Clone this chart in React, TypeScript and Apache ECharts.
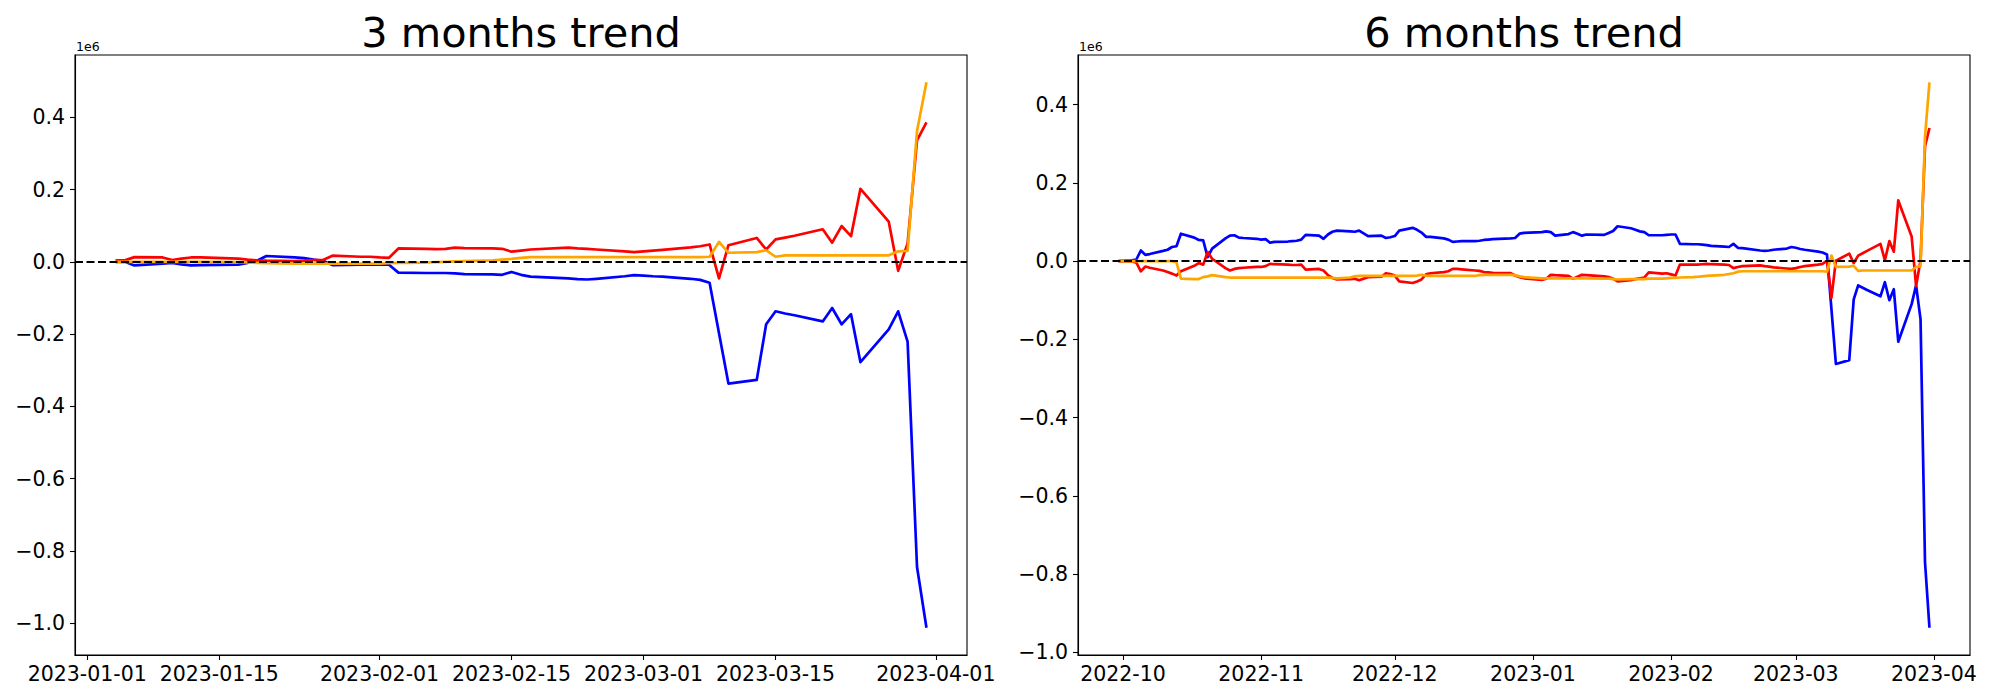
import React, { useEffect, useRef } from "react";
import * as echarts from "echarts";

// ---------- 3 months trend (values in units of 1e6) ----------
const dates3m = [
  "2023-01-04","2023-01-05","2023-01-06","2023-01-09","2023-01-10","2023-01-11","2023-01-12","2023-01-13","2023-01-17","2023-01-18","2023-01-19","2023-01-20","2023-01-23","2023-01-24","2023-01-25","2023-01-26","2023-01-27","2023-01-30","2023-01-31",
  "2023-02-01","2023-02-02","2023-02-03","2023-02-06","2023-02-07","2023-02-08","2023-02-09","2023-02-10","2023-02-13","2023-02-14","2023-02-15","2023-02-16","2023-02-17","2023-02-21","2023-02-22","2023-02-23","2023-02-24","2023-02-27","2023-02-28",
  "2023-03-01","2023-03-02","2023-03-03","2023-03-06","2023-03-07","2023-03-08","2023-03-09","2023-03-10","2023-03-13","2023-03-14","2023-03-15","2023-03-16","2023-03-17","2023-03-20","2023-03-21","2023-03-22","2023-03-23","2023-03-24","2023-03-27","2023-03-28","2023-03-29","2023-03-30","2023-03-31",
];
const blue3m = [
  0.000, 0.000, -0.010, -0.005, -0.003, -0.007, -0.010, -0.009, -0.008, -0.003, 0.003, 0.016, 0.012, 0.010, 0.006, 0.003, -0.009, -0.008, -0.008,
  -0.007, -0.008, -0.030, -0.031, -0.031, -0.031, -0.032, -0.034, -0.035, -0.036, -0.028, -0.036, -0.041, -0.046, -0.048, -0.049, -0.047, -0.040, -0.037,
  -0.038, -0.040, -0.041, -0.047, -0.050, -0.058, -0.198, -0.337, -0.327, -0.173, -0.137, -0.143, -0.148, -0.165, -0.128, -0.173, -0.145, -0.278, -0.187, -0.137, -0.221, -0.845, -1.013,
];
const red3m = [
  0.004, 0.004, 0.013, 0.012, 0.005, 0.009, 0.012, 0.012, 0.009, 0.006, 0.004, 0.003, 0.002, 0.003, 0.005, 0.005, 0.017, 0.014, 0.014,
  0.012, 0.011, 0.037, 0.036, 0.035, 0.036, 0.039, 0.038, 0.037, 0.036, 0.028, 0.031, 0.034, 0.039, 0.037, 0.036, 0.034, 0.029, 0.027,
  0.029, 0.031, 0.033, 0.040, 0.043, 0.048, -0.046, 0.046, 0.066, 0.034, 0.062, 0.067, 0.072, 0.090, 0.053, 0.099, 0.071, 0.202, 0.111, -0.025, 0.051, 0.336, 0.386,
];
const orange3m = [
  0.000, 0.000, 0.000, 0.000, 0.000, 0.000, 0.000, 0.000, -0.001, -0.002, -0.003, -0.004, -0.005, -0.005, -0.005, -0.005, -0.005, -0.005, -0.005,
  -0.005, -0.004, -0.003, -0.002, -0.001, 0.000, 0.001, 0.002, 0.004, 0.006, 0.008, 0.011, 0.013, 0.013, 0.013, 0.013, 0.013, 0.013, 0.013,
  0.013, 0.013, 0.013, 0.013, 0.013, 0.014, 0.055, 0.025, 0.027, 0.032, 0.014, 0.018, 0.018, 0.018, 0.018, 0.018, 0.018, 0.018, 0.018, 0.029, 0.030, 0.362, 0.497,
];
const xTicks3m = ["2023-01-01", "2023-01-15", "2023-02-01", "2023-02-15", "2023-03-01", "2023-03-15", "2023-04-01"];

// ---------- 6 months trend (values in units of 1e6) ----------
const dates6m = [
  "2022-09-30","2022-10-03","2022-10-04","2022-10-05","2022-10-06","2022-10-07","2022-10-10","2022-10-11","2022-10-12","2022-10-13","2022-10-14","2022-10-17","2022-10-18","2022-10-19","2022-10-20","2022-10-21","2022-10-24","2022-10-25","2022-10-26","2022-10-27","2022-10-28","2022-10-31",
  "2022-11-01","2022-11-02","2022-11-03","2022-11-04","2022-11-07","2022-11-08","2022-11-09","2022-11-10","2022-11-11","2022-11-14","2022-11-15","2022-11-16","2022-11-17","2022-11-18","2022-11-21","2022-11-22","2022-11-23","2022-11-25","2022-11-28","2022-11-29","2022-11-30",
  "2022-12-01","2022-12-02","2022-12-05","2022-12-06","2022-12-07","2022-12-08","2022-12-09","2022-12-12","2022-12-13","2022-12-14","2022-12-15","2022-12-16","2022-12-19","2022-12-20","2022-12-21","2022-12-22","2022-12-23","2022-12-27","2022-12-28","2022-12-29","2022-12-30",
  "2023-01-03","2023-01-04","2023-01-05","2023-01-06","2023-01-09","2023-01-10","2023-01-11","2023-01-12","2023-01-13","2023-01-17","2023-01-18","2023-01-19","2023-01-20","2023-01-23","2023-01-24","2023-01-25","2023-01-26","2023-01-27","2023-01-30","2023-01-31",
  "2023-02-01","2023-02-02","2023-02-03","2023-02-06","2023-02-07","2023-02-08","2023-02-09","2023-02-10","2023-02-13","2023-02-14","2023-02-15","2023-02-16","2023-02-17","2023-02-21","2023-02-22","2023-02-23","2023-02-24","2023-02-27","2023-02-28",
  "2023-03-01","2023-03-02","2023-03-03","2023-03-06","2023-03-07","2023-03-08","2023-03-09","2023-03-10","2023-03-13","2023-03-14","2023-03-15","2023-03-16","2023-03-17","2023-03-20","2023-03-21","2023-03-22","2023-03-23","2023-03-24","2023-03-27","2023-03-28","2023-03-29","2023-03-30","2023-03-31",
];
const blue6m = [
  0.000, 0.002, 0.004, 0.027, 0.016, 0.018, 0.026, 0.029, 0.036, 0.038, 0.070, 0.060, 0.054, 0.053, 0.010, 0.032, 0.058, 0.065, 0.066, 0.060, 0.059, 0.057,
  0.055, 0.056, 0.047, 0.049, 0.050, 0.051, 0.052, 0.055, 0.067, 0.065, 0.057, 0.068, 0.075, 0.078, 0.076, 0.075, 0.078, 0.064, 0.065, 0.059, 0.061,
  0.064, 0.078, 0.085, 0.080, 0.073, 0.062, 0.062, 0.058, 0.055, 0.049, 0.050, 0.051, 0.051, 0.052, 0.054, 0.055, 0.056, 0.058, 0.059, 0.070, 0.072,
  0.074, 0.076, 0.074, 0.065, 0.069, 0.074, 0.070, 0.065, 0.068, 0.067, 0.072, 0.077, 0.089, 0.084, 0.080, 0.076, 0.074, 0.066, 0.066, 0.067,
  0.068, 0.068, 0.044, 0.043, 0.043, 0.042, 0.041, 0.039, 0.037, 0.036, 0.044, 0.034, 0.033, 0.027, 0.026, 0.027, 0.029, 0.032, 0.036,
  0.034, 0.031, 0.029, 0.024, 0.022, 0.017, -0.123, -0.263, -0.253, -0.098, -0.062, -0.068, -0.074, -0.090, -0.054, -0.100, -0.072, -0.206, -0.110, -0.062, -0.149, -0.769, -0.937,
];
const red6m = [
  0.000, -0.001, -0.004, -0.026, -0.014, -0.017, -0.024, -0.028, -0.032, -0.037, -0.026, -0.012, -0.005, -0.009, 0.023, 0.006, -0.018, -0.024, -0.020, -0.018, -0.017, -0.015,
  -0.015, -0.013, -0.007, -0.008, -0.009, -0.010, -0.010, -0.009, -0.022, -0.020, -0.024, -0.036, -0.043, -0.047, -0.046, -0.045, -0.049, -0.041, -0.040, -0.031, -0.033,
  -0.037, -0.052, -0.056, -0.052, -0.047, -0.034, -0.031, -0.028, -0.026, -0.020, -0.020, -0.021, -0.024, -0.025, -0.028, -0.029, -0.030, -0.031, -0.037, -0.041, -0.044,
  -0.048, -0.045, -0.035, -0.036, -0.038, -0.045, -0.040, -0.035, -0.036, -0.039, -0.041, -0.045, -0.052, -0.049, -0.046, -0.044, -0.042, -0.029, -0.032, -0.031,
  -0.034, -0.037, -0.009, -0.009, -0.009, -0.008, -0.007, -0.008, -0.009, -0.010, -0.018, -0.015, -0.013, -0.011, -0.013, -0.014, -0.016, -0.019, -0.020,
  -0.018, -0.015, -0.013, -0.009, -0.007, 0.001, -0.094, 0.001, 0.019, -0.005, 0.014, 0.020, 0.026, 0.044, 0.002, 0.051, 0.024, 0.155, 0.063, -0.064, 0.002, 0.293, 0.340,
];
const orange6m = [
  0.000, 0.000, 0.000, 0.000, 0.000, 0.000, 0.000, 0.000, 0.000, -0.003, -0.045, -0.046, -0.046, -0.041, -0.039, -0.036, -0.041, -0.042, -0.042, -0.042, -0.042, -0.042,
  -0.042, -0.042, -0.042, -0.042, -0.042, -0.042, -0.042, -0.042, -0.042, -0.042, -0.042, -0.042, -0.043, -0.044, -0.042, -0.039, -0.038, -0.038, -0.038, -0.038, -0.038,
  -0.038, -0.038, -0.038, -0.037, -0.035, -0.037, -0.038, -0.038, -0.038, -0.038, -0.038, -0.038, -0.038, -0.036, -0.035, -0.035, -0.035, -0.035, -0.036, -0.039, -0.041,
  -0.044, -0.044, -0.044, -0.044, -0.044, -0.044, -0.044, -0.044, -0.044, -0.045, -0.045, -0.046, -0.047, -0.046, -0.046, -0.046, -0.046, -0.045, -0.045, -0.044,
  -0.043, -0.043, -0.042, -0.041, -0.040, -0.039, -0.038, -0.037, -0.035, -0.033, -0.031, -0.027, -0.026, -0.026, -0.026, -0.026, -0.026, -0.026, -0.026,
  -0.026, -0.026, -0.026, -0.026, -0.026, -0.027, 0.014, -0.015, -0.014, -0.012, -0.025, -0.024, -0.024, -0.024, -0.024, -0.024, -0.024, -0.024, -0.024, -0.015, -0.013, 0.318, 0.457,
];
const xTicks6m = ["2022-10-01", "2022-11-01", "2022-12-01", "2023-01-01", "2023-02-01", "2023-03-01", "2023-04-01"];

const yTicks = [-1.0, -0.8, -0.6, -0.4, -0.2, 0.0, 0.2, 0.4];
const titles = ["3 months trend", "6 months trend"];
const COLORS = { blue: "#0000ff", red: "#ff0000", orange: "#ffa500" };
const FONT = "DejaVu Sans";

const toTs = (s: string) => {
  const [y, m, d] = s.split("-").map(Number);
  return Date.UTC(y, m - 1, d);
};
const pad2 = (n: number) => (n < 10 ? "0" + n : "" + n);
const fmtDay = (v: number) => {
  const d = new Date(v);
  return `${d.getUTCFullYear()}-${pad2(d.getUTCMonth() + 1)}-${pad2(d.getUTCDate())}`;
};
const fmtMonth = (v: number) => {
  const d = new Date(v);
  return `${d.getUTCFullYear()}-${pad2(d.getUTCMonth() + 1)}`;
};
const fmtY = (v: number) => {
  const r = Math.round(v * 10) / 10;
  return (r < 0 ? "\u2212" : "") + Math.abs(r).toFixed(1);
};

export default function App() {
  const ref = useRef<HTMLDivElement>(null);

  useEffect(() => {
    if (!ref.current) return;
    const chart = echarts.init(ref.current, undefined, { renderer: "svg" });

    const panels = [
      { dates: dates3m, blue: blue3m, red: red3m, orange: orange3m, ticks: xTicks3m, fmt: fmtDay, left: 75, width: 892 },
      { dates: dates6m, blue: blue6m, red: red6m, orange: orange6m, ticks: xTicks6m, fmt: fmtMonth, left: 1078, width: 892 },
    ];

    const grid: any[] = [];
    const xAxis: any[] = [];
    const yAxis: any[] = [];
    const series: any[] = [];
    const graphic: any[] = [];

    panels.forEach((p, i) => {
      const ts = p.dates.map(toTs);
      const t0 = ts[0];
      const t1 = ts[ts.length - 1];
      const xpad = (t1 - t0) * 0.05;
      const all = [...p.blue, ...p.red, ...p.orange];
      const vmin = Math.min(...all);
      const vmax = Math.max(...all);
      const ypad = (vmax - vmin) * 0.05;

      grid.push({
        left: p.left,
        top: 55,
        width: p.width,
        height: 600,
        show: true,
        borderColor: "#000",
        borderWidth: 1.1,
        backgroundColor: "transparent",
      });

      xAxis.push({
        type: "value",
        gridIndex: i,
        min: t0 - xpad,
        max: t1 + xpad,
        axisLine: { show: true, onZero: false, lineStyle: { color: "#000", width: 1.1 } },
        axisTick: { show: true, length: 5, lineStyle: { color: "#000", width: 1.1 }, customValues: p.ticks.map(toTs) },
        axisLabel: {
          color: "#000",
          fontSize: 20.5,
          fontFamily: FONT,
          margin: 8,
          customValues: p.ticks.map(toTs),
          formatter: (v: number) => p.fmt(v),
        },
        splitLine: { show: false },
      });

      yAxis.push({
        type: "value",
        gridIndex: i,
        min: vmin - ypad,
        max: vmax + ypad,
        axisLine: { show: true, onZero: false, lineStyle: { color: "#000", width: 1.1 } },
        axisTick: { show: true, length: 5, lineStyle: { color: "#000", width: 1.1 }, customValues: yTicks },
        axisLabel: {
          color: "#000",
          fontSize: 20.5,
          fontFamily: FONT,
          margin: 10,
          customValues: yTicks,
          formatter: (v: number) => fmtY(v),
        },
        splitLine: { show: false },
      });

      const mk = (vals: number[], color: string, name: string, z: number) => ({
        type: "line",
        name,
        xAxisIndex: i,
        yAxisIndex: i,
        data: ts.map((t, k) => [t, vals[k]]),
        showSymbol: false,
        symbol: "none",
        z,
        lineStyle: { color, width: 2.7, join: "round", cap: "butt" },
        itemStyle: { color },
        emphasis: { disabled: true },
      });
      series.push(mk(p.blue, COLORS.blue, "blue", 2));
      series.push(mk(p.red, COLORS.red, "red", 3));
      series.push(mk(p.orange, COLORS.orange, "orange", 4));
      series.push({
        type: "line",
        name: "zero",
        xAxisIndex: i,
        yAxisIndex: i,
        data: [],
        z: 6,
        markLine: {
          silent: true,
          symbol: ["none", "none"],
          label: { show: false },
          lineStyle: { color: "#000", width: 2.2, type: [8, 3.5] },
          emphasis: { disabled: true },
          data: [{ yAxis: 0 }],
        },
      });

      graphic.push({
        type: "text",
        x: p.left + p.width / 2,
        y: 32,
        style: {
          text: titles[i],
          fill: "#000",
          font: `41.5px "${FONT}"`,
          textAlign: "center",
          textVerticalAlign: "middle",
        },
      });
      graphic.push({
        type: "text",
        x: p.left + 1,
        y: 46.5,
        style: {
          text: "1e6",
          fill: "#000",
          font: `12.5px "${FONT}"`,
          textAlign: "left",
          textVerticalAlign: "middle",
        },
      });
    });

    chart.setOption({
      animation: false,
      backgroundColor: "#ffffff",
      grid,
      xAxis,
      yAxis,
      series,
      graphic,
    });

    return () => {
      chart.dispose();
    };
  }, []);

  return (
    <div
      ref={ref}
      style={{ position: "absolute", left: 0, top: 0, width: 2000, height: 700, background: "#fff" }}
    />
  );
}
